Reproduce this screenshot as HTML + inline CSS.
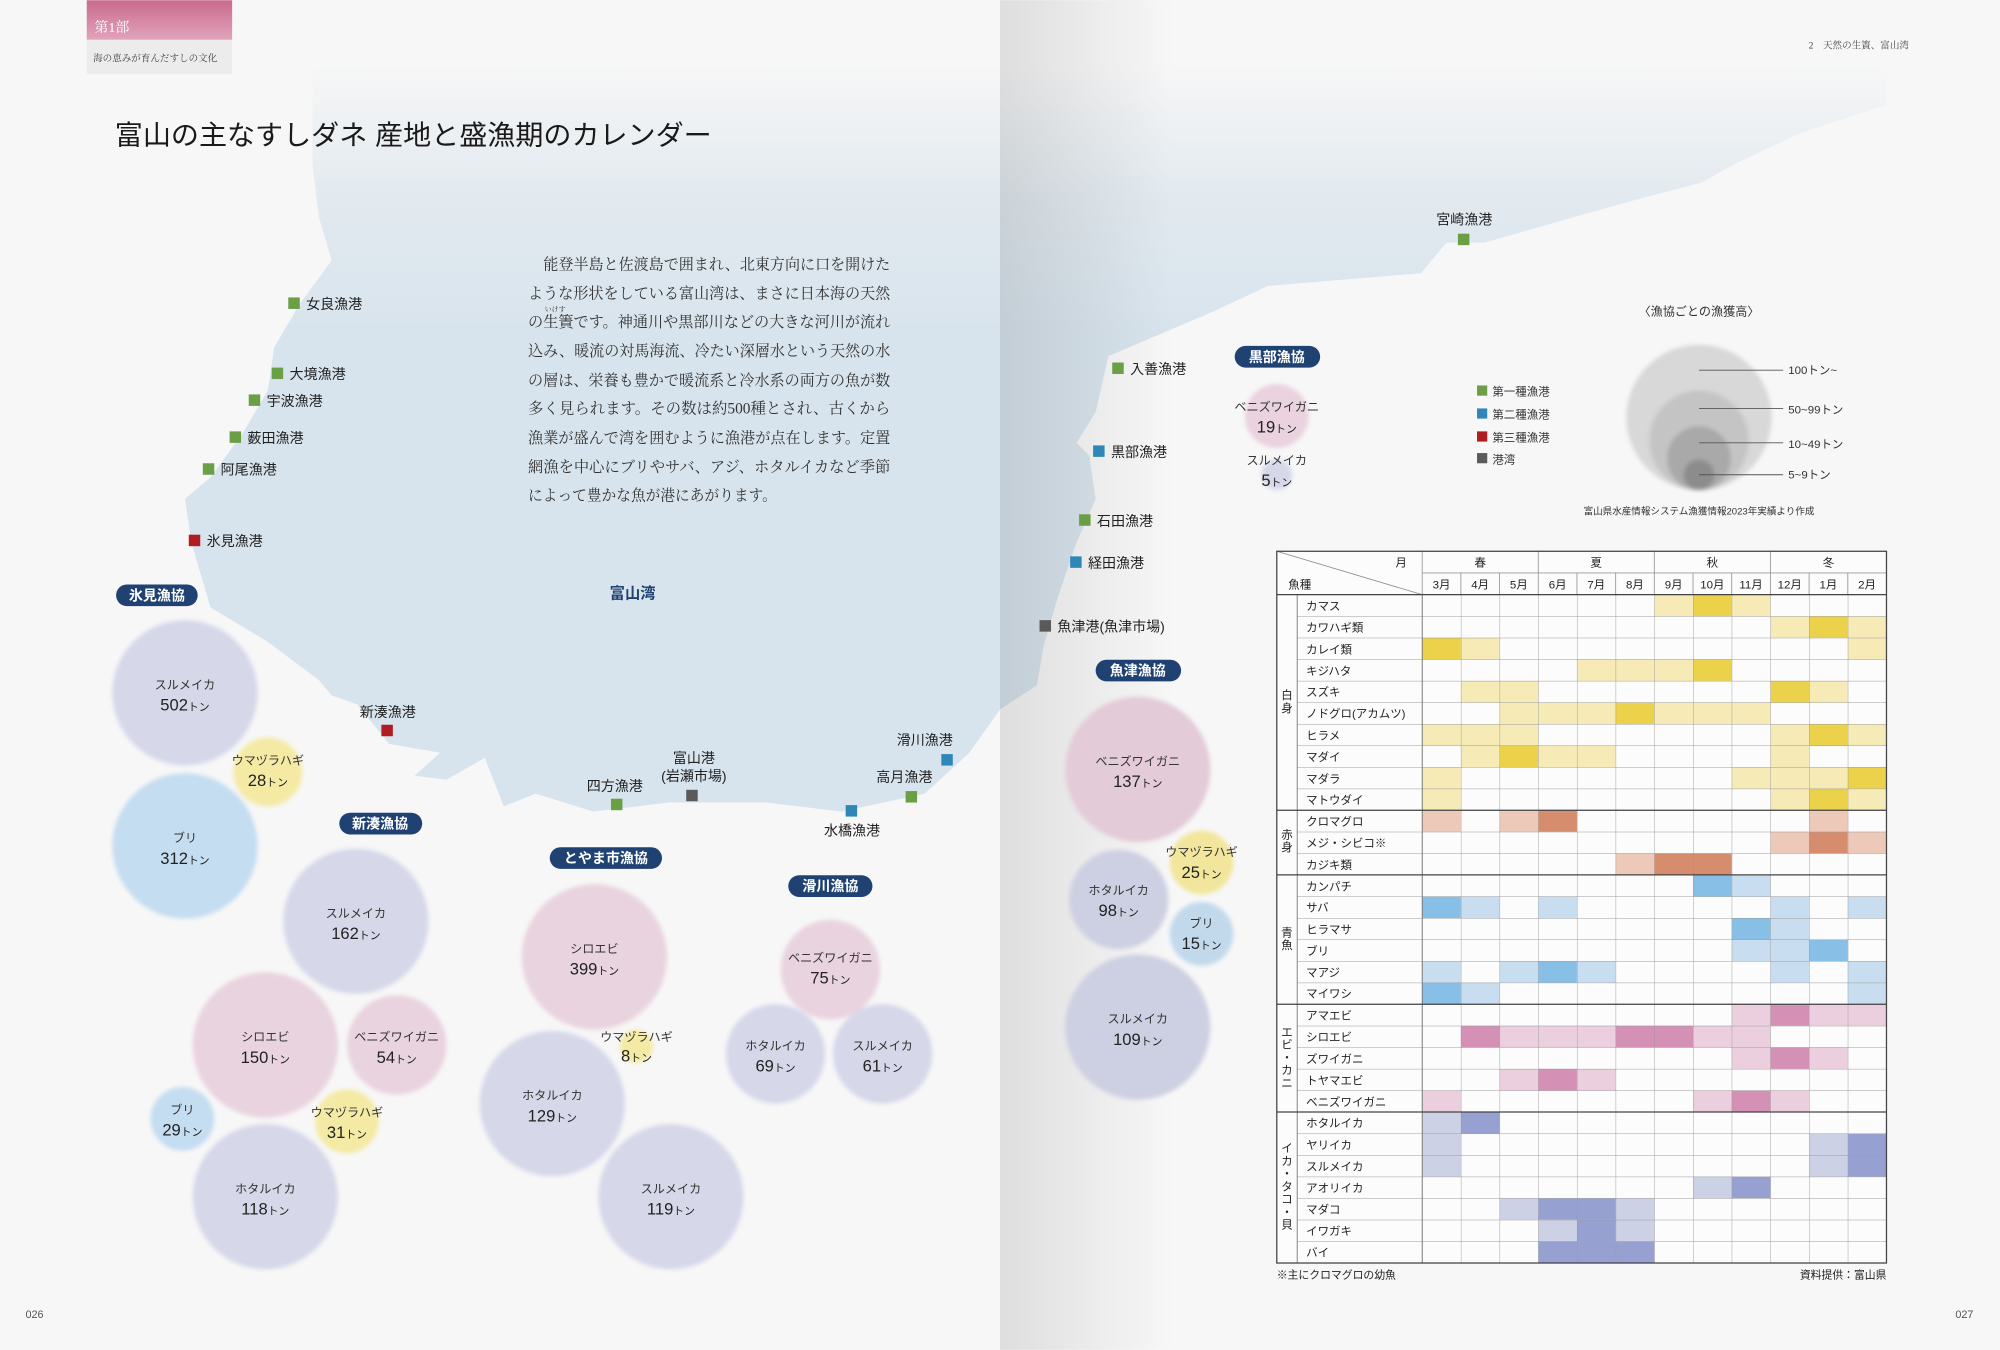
<!DOCTYPE html>
<html><head><meta charset="utf-8">
<style>
html,body{margin:0;padding:0;background:#f7f7f7;}
svg{display:block}
.s{font-family:"Liberation Sans","Noto Sans CJK JP",sans-serif;}
.sr{font-family:"Liberation Serif","Noto Serif CJK SC",serif;}
.y1{fill:#f6ebb6}.y2{fill:#ecd24a}
.r1{fill:#ecc9b8}.r2{fill:#d68d6d}
.b1{fill:#c8def0}.b2{fill:#88bfe6}
.p1{fill:#ebcfdf}.p2{fill:#d590b5}
.v1{fill:#cdd1e6}.v2{fill:#97a1d1}
.port{font-size:11px;fill:#222}
.pill{fill:#1f4273}
.pt{font-size:11px;fill:#fff;font-weight:bold}
.bn{font-size:9.5px;fill:#333}
.bv{font-size:13px;fill:#222}
.bu{font-size:8.5px}
.tl{font-size:9px;fill:#222}
</style></head>
<body>
<svg width="2000" height="1350" viewBox="0 0 1568 1058" xmlns="http://www.w3.org/2000/svg">
<defs>
<linearGradient id="sea" gradientUnits="userSpaceOnUse" x1="0" y1="50" x2="0" y2="260">
<stop offset="0" stop-color="#d9e4ec" stop-opacity="0"/>
<stop offset="0.5" stop-color="#d9e4ec" stop-opacity="0.7"/>
<stop offset="1" stop-color="#d8e4ed" stop-opacity="1"/>
</linearGradient>
<linearGradient id="gut" x1="784" y1="0" x2="920" y2="0" gradientUnits="userSpaceOnUse">
<stop offset="0" stop-color="#000" stop-opacity="0.1"/>
<stop offset="1" stop-color="#000" stop-opacity="0"/>
</linearGradient>
<linearGradient id="hdr" x1="0" y1="0" x2="0" y2="1">
<stop offset="0" stop-color="#c96a8c"/><stop offset="1" stop-color="#e1a3bb"/>
</linearGradient>
<filter id="bl" x="-20%" y="-20%" width="140%" height="140%"><feGaussianBlur stdDeviation="1.6"/></filter>
<pattern id="grid" patternUnits="userSpaceOnUse" x="1115" y="466" width="30.333" height="16.9">
<path d="M0 0V16.9M0 0H30.333" stroke="#9a9a9a" stroke-width="0.7" fill="none"/>
</pattern>
<pattern id="hgrid" patternUnits="userSpaceOnUse" x="1017" y="466" width="200" height="16.9">
<path d="M0 0H200" stroke="#9a9a9a" stroke-width="0.7" fill="none"/>
</pattern>
</defs>

<rect width="1568" height="1058" fill="#f7f7f7"/>

<!-- sea -->
<path fill="url(#sea)" d="M245 40 L245 129 L250 170 L260 204 L235 238 L215 272 L210 306 L190 340 L165 374 L145 391 L150 425 L165 476 L210 503 L250 533 L260 545 L280 552 L305 583 L345 590 L325 608 L350 611 L380 594 L395 632 L420 622 L465 636 L525 629 L600 629 L660 636 L725 622 L760 590 L784 556 L813 537 L818 507 L829 469 L844 425 L859 391 L854 357 L844 347 L859 323 L869 279 L909 262 L949 245 L994 224 L1114 214 L1134 190 L1164 190 L1234 170 L1284 156 L1334 143 L1359 129 L1409 105 L1479 82 L1479 40 Z"/>
<rect x="784" y="0" width="140" height="1058" fill="url(#gut)"/>

<!-- header -->
<rect x="68" y="0" width="114" height="31" fill="url(#hdr)"/>
<rect x="68" y="31" width="114" height="27" fill="#ececec"/>
<text x="74" y="25" class="sr" font-size="11" fill="#fff">第1部</text>
<text x="73" y="48" class="sr" font-size="7.5" fill="#444">海の恵みが育んだすしの文化</text>
<text x="1418" y="38" class="sr" font-size="7.5" fill="#444">2　天然の生簀、富山湾</text>
<text x="20" y="1033" class="s" font-size="8.5" fill="#555">026</text>
<text x="1533" y="1033" class="s" font-size="8.5" fill="#555">027</text>

<text x="90" y="113" class="s" font-size="21.5" fill="#1a1a1a" textLength="468" lengthAdjust="spacingAndGlyphs">富山の主なすしダネ 産地と盛漁期のカレンダー</text>

<!-- paragraph -->
<g class="sr" font-size="12" fill="#333">
<text x="426" y="211" textLength="272" lengthAdjust="spacingAndGlyphs">能登半島と佐渡島で囲まれ、北東方向に口を開けた</text>
<text x="414" y="234" textLength="284" lengthAdjust="spacingAndGlyphs">ような形状をしている富山湾は、まさに日本海の天然</text>
<text x="427" y="244" font-size="5.5">いけす</text>
<text x="414" y="256" textLength="284" lengthAdjust="spacingAndGlyphs">の生簀です。神通川や黒部川などの大きな河川が流れ</text>
<text x="414" y="279" textLength="284" lengthAdjust="spacingAndGlyphs">込み、暖流の対馬海流、冷たい深層水という天然の水</text>
<text x="414" y="302" textLength="284" lengthAdjust="spacingAndGlyphs">の層は、栄養も豊かで暖流系と冷水系の両方の魚が数</text>
<text x="414" y="324" textLength="284" lengthAdjust="spacingAndGlyphs">多く見られます。その数は約500種とされ、古くから</text>
<text x="414" y="347" textLength="284" lengthAdjust="spacingAndGlyphs">漁業が盛んで湾を囲むように漁港が点在します。定置</text>
<text x="414" y="370" textLength="284" lengthAdjust="spacingAndGlyphs">網漁を中心にブリやサバ、アジ、ホタルイカなど季節</text>
<text x="414" y="392" textLength="195" lengthAdjust="spacingAndGlyphs">によって豊かな魚が港にあがります。</text>
</g>
<text x="496" y="469" class="s" font-size="12" font-weight="bold" fill="#1f4273" text-anchor="middle">富山湾</text>

<!-- ports -->
<g class="s">
<rect x="226" y="233" width="9" height="9" fill="#6a9f45"/><text x="240" y="242" class="port">女良漁港</text>
<rect x="213" y="288" width="9" height="9" fill="#6a9f45"/><text x="227" y="297" class="port">大境漁港</text>
<rect x="195" y="309" width="9" height="9" fill="#6a9f45"/><text x="209" y="318" class="port">宇波漁港</text>
<rect x="180" y="338" width="9" height="9" fill="#6a9f45"/><text x="194" y="347" class="port">薮田漁港</text>
<rect x="159" y="363" width="9" height="9" fill="#6a9f45"/><text x="173" y="372" class="port">阿尾漁港</text>
<rect x="148" y="419" width="9" height="9" fill="#b01c22"/><text x="162" y="428" class="port">氷見漁港</text>
<text x="304" y="562" class="port" text-anchor="middle">新湊漁港</text><rect x="299" y="568" width="9" height="9" fill="#b01c22"/>
<text x="482" y="620" class="port" text-anchor="middle">四方漁港</text><rect x="479" y="626" width="9" height="9" fill="#6a9f45"/>
<text x="544" y="598" class="port" text-anchor="middle">富山港</text>
<text x="544" y="612" class="port" text-anchor="middle">(岩瀬市場)</text><rect x="538" y="619" width="9" height="9" fill="#5a5a5a"/>
<rect x="663" y="631" width="9" height="9" fill="#2f87b8"/><text x="668" y="655" class="port" text-anchor="middle">水橋漁港</text>
<text x="709" y="613" class="port" text-anchor="middle">高月漁港</text><rect x="710" y="620" width="9" height="9" fill="#6a9f45"/>
<text x="725" y="584" class="port" text-anchor="middle">滑川漁港</text><rect x="738" y="591" width="9" height="9" fill="#2f87b8"/>
<text x="1148" y="176" class="port" text-anchor="middle">宮崎漁港</text><rect x="1143" y="183" width="9" height="9" fill="#6a9f45"/>
<rect x="872" y="284" width="9" height="9" fill="#6a9f45"/><text x="886" y="293" class="port">入善漁港</text>
<rect x="857" y="349" width="9" height="9" fill="#2f87b8"/><text x="871" y="358" class="port">黒部漁港</text>
<rect x="846" y="403" width="9" height="9" fill="#6a9f45"/><text x="860" y="412" class="port">石田漁港</text>
<rect x="839" y="436" width="9" height="9" fill="#2f87b8"/><text x="853" y="445" class="port">経田漁港</text>
<rect x="815" y="486" width="9" height="9" fill="#5a5a5a"/><text x="829" y="495" class="port">魚津港(魚津市場)</text>
</g>

<!-- bubbles -->
<g filter="url(#bl)">
<circle cx="145" cy="543" r="57" fill="#d6d8ea"/>
<circle cx="210" cy="605" r="27" fill="#f4eaa4"/>
<circle cx="145" cy="663" r="57" fill="#c4ddf1"/>
<circle cx="279" cy="722" r="57" fill="#d6d8ea"/>
<circle cx="208" cy="819" r="57" fill="#e9d3df"/>
<circle cx="311" cy="819" r="39" fill="#e9d3df"/>
<circle cx="143" cy="877" r="25" fill="#c4ddf1"/>
<circle cx="272" cy="879" r="25" fill="#f4eaa4"/>
<circle cx="208" cy="938" r="57" fill="#d6d8ea"/>
<circle cx="466" cy="750" r="57" fill="#e9d3df"/>
<circle cx="433" cy="865" r="57" fill="#d6d8ea"/>
<circle cx="499" cy="820" r="13" fill="#f4eaa4"/>
<circle cx="526" cy="938" r="57" fill="#d6d8ea"/>
<circle cx="651" cy="760" r="39" fill="#e9d3df"/>
<circle cx="608" cy="826" r="39" fill="#d6d8ea"/>
<circle cx="692" cy="826" r="39" fill="#d6d8ea"/>
<circle cx="1001" cy="326" r="25" fill="#ead2df"/>
<circle cx="1001" cy="372" r="12" fill="#d6d8ea"/>
<circle cx="892" cy="603" r="57" fill="#e3cbd8"/>
<circle cx="877" cy="705" r="39" fill="#cdd0e2"/>
<circle cx="942" cy="676" r="25" fill="#f2e69c"/>
<circle cx="942" cy="732" r="25" fill="#c2d9ec"/>
<circle cx="892" cy="805" r="57" fill="#cdd0e2"/>
</g>

<!-- pills -->
<g class="s">
<rect x="91" y="458" width="64" height="17" rx="8.5" class="pill"/><text x="123" y="470.5" class="pt" text-anchor="middle">氷見漁協</text>
<rect x="266" y="637" width="65" height="17" rx="8.5" class="pill"/><text x="298" y="649.5" class="pt" text-anchor="middle">新湊漁協</text>
<rect x="431" y="664" width="88" height="17" rx="8.5" class="pill"/><text x="475" y="676.5" class="pt" text-anchor="middle">とやま市漁協</text>
<rect x="618" y="686" width="66" height="17" rx="8.5" class="pill"/><text x="651" y="698.5" class="pt" text-anchor="middle">滑川漁協</text>
<rect x="968" y="271" width="67" height="17" rx="8.5" class="pill"/><text x="1001" y="283.5" class="pt" text-anchor="middle">黒部漁協</text>
<rect x="859" y="517" width="67" height="17" rx="8.5" class="pill"/><text x="892" y="529.5" class="pt" text-anchor="middle">魚津漁協</text>
</g>

<!-- bubble labels -->
<g class="s" text-anchor="middle">
<text x="145" y="540" class="bn">スルメイカ</text><text x="145" y="557" class="bv">502<tspan class="bu">トン</tspan></text>
<text x="210" y="599" class="bn">ウマヅラハギ</text><text x="210" y="616" class="bv">28<tspan class="bu">トン</tspan></text>
<text x="145" y="660" class="bn">ブリ</text><text x="145" y="677" class="bv">312<tspan class="bu">トン</tspan></text>
<text x="279" y="719" class="bn">スルメイカ</text><text x="279" y="736" class="bv">162<tspan class="bu">トン</tspan></text>
<text x="208" y="816" class="bn">シロエビ</text><text x="208" y="833" class="bv">150<tspan class="bu">トン</tspan></text>
<text x="311" y="816" class="bn">ベニズワイガニ</text><text x="311" y="833" class="bv">54<tspan class="bu">トン</tspan></text>
<text x="143" y="873" class="bn">ブリ</text><text x="143" y="890" class="bv">29<tspan class="bu">トン</tspan></text>
<text x="272" y="875" class="bn">ウマヅラハギ</text><text x="272" y="892" class="bv">31<tspan class="bu">トン</tspan></text>
<text x="208" y="935" class="bn">ホタルイカ</text><text x="208" y="952" class="bv">118<tspan class="bu">トン</tspan></text>
<text x="466" y="747" class="bn">シロエビ</text><text x="466" y="764" class="bv">399<tspan class="bu">トン</tspan></text>
<text x="499" y="816" class="bn">ウマヅラハギ</text><text x="499" y="832" class="bv">8<tspan class="bu">トン</tspan></text>
<text x="433" y="862" class="bn">ホタルイカ</text><text x="433" y="879" class="bv">129<tspan class="bu">トン</tspan></text>
<text x="526" y="935" class="bn">スルメイカ</text><text x="526" y="952" class="bv">119<tspan class="bu">トン</tspan></text>
<text x="651" y="754" class="bn">ベニズワイガニ</text><text x="651" y="771" class="bv">75<tspan class="bu">トン</tspan></text>
<text x="608" y="823" class="bn">ホタルイカ</text><text x="608" y="840" class="bv">69<tspan class="bu">トン</tspan></text>
<text x="692" y="823" class="bn">スルメイカ</text><text x="692" y="840" class="bv">61<tspan class="bu">トン</tspan></text>
<text x="1001" y="322" class="bn">ベニズワイガニ</text><text x="1001" y="339" class="bv">19<tspan class="bu">トン</tspan></text>
<text x="1001" y="364" class="bn">スルメイカ</text><text x="1001" y="381" class="bv">5<tspan class="bu">トン</tspan></text>
<text x="892" y="600" class="bn">ベニズワイガニ</text><text x="892" y="617" class="bv">137<tspan class="bu">トン</tspan></text>
<text x="877" y="701" class="bn">ホタルイカ</text><text x="877" y="718" class="bv">98<tspan class="bu">トン</tspan></text>
<text x="942" y="671" class="bn">ウマヅラハギ</text><text x="942" y="688" class="bv">25<tspan class="bu">トン</tspan></text>
<text x="942" y="727" class="bn">ブリ</text><text x="942" y="744" class="bv">15<tspan class="bu">トン</tspan></text>
<text x="892" y="802" class="bn">スルメイカ</text><text x="892" y="819" class="bv">109<tspan class="bu">トン</tspan></text>
</g>

<!-- legend -->
<g class="s" font-size="9" fill="#333">
<rect x="1158" y="302" width="8" height="8" fill="#6a9f45"/><text x="1170" y="310">第一種漁港</text>
<rect x="1158" y="320" width="8" height="8" fill="#2f87b8"/><text x="1170" y="328">第二種漁港</text>
<rect x="1158" y="338" width="8" height="8" fill="#b01c22"/><text x="1170" y="346">第三種漁港</text>
<rect x="1158" y="355" width="8" height="8" fill="#5a5a5a"/><text x="1170" y="363">港湾</text>
<text x="1332" y="247" text-anchor="middle" font-size="9.5">〈漁協ごとの漁獲高〉</text>
<g filter="url(#bl)">
<circle cx="1332" cy="327" r="57" fill="#d8d8d8"/>
<circle cx="1332" cy="345" r="39" fill="#c4c4c4"/>
<circle cx="1332" cy="359" r="25" fill="#a9a9a9"/>
<circle cx="1332" cy="372" r="12" fill="#8c8c8c"/>
</g>
<path d="M1332 290H1398M1332 320H1398M1332 347H1398M1332 372H1398" stroke="#555" stroke-width="0.7"/>
<text x="1402" y="293">100トン~</text>
<text x="1402" y="324">50~99トン</text>
<text x="1402" y="351">10~49トン</text>
<text x="1402" y="375">5~9トン</text>
<text x="1332" y="403" text-anchor="middle" font-size="7.5">富山県水産情報システム漁獲情報2023年実績より作成</text>
</g>

<!-- table -->
<rect x="1001" y="432" width="478" height="558" fill="#fcfcfc"/>
<g transform="translate(1115,466) scale(30.333,16.9)">
<rect x="6" y="0" width="1" height="1" class="y1"/><rect x="7" y="0" width="1" height="1" class="y2"/><rect x="8" y="0" width="1" height="1" class="y1"/>
<rect x="9" y="1" width="1" height="1" class="y1"/><rect x="10" y="1" width="1" height="1" class="y2"/><rect x="11" y="1" width="1" height="1" class="y1"/>
<rect x="0" y="2" width="1" height="1" class="y2"/><rect x="1" y="2" width="1" height="1" class="y1"/><rect x="11" y="2" width="1" height="1" class="y1"/>
<rect x="4" y="3" width="3" height="1" class="y1"/><rect x="7" y="3" width="1" height="1" class="y2"/>
<rect x="1" y="4" width="2" height="1" class="y1"/><rect x="9" y="4" width="1" height="1" class="y2"/><rect x="10" y="4" width="1" height="1" class="y1"/>
<rect x="2" y="5" width="3" height="1" class="y1"/><rect x="5" y="5" width="1" height="1" class="y2"/><rect x="6" y="5" width="3" height="1" class="y1"/>
<rect x="0" y="6" width="3" height="1" class="y1"/><rect x="9" y="6" width="1" height="1" class="y1"/><rect x="10" y="6" width="1" height="1" class="y2"/><rect x="11" y="6" width="1" height="1" class="y1"/>
<rect x="1" y="7" width="1" height="1" class="y1"/><rect x="2" y="7" width="1" height="1" class="y2"/><rect x="3" y="7" width="2" height="1" class="y1"/><rect x="9" y="7" width="1" height="1" class="y1"/>
<rect x="0" y="8" width="1" height="1" class="y1"/><rect x="8" y="8" width="3" height="1" class="y1"/><rect x="11" y="8" width="1" height="1" class="y2"/>
<rect x="0" y="9" width="1" height="1" class="y1"/><rect x="9" y="9" width="1" height="1" class="y1"/><rect x="10" y="9" width="1" height="1" class="y2"/><rect x="11" y="9" width="1" height="1" class="y1"/>
<rect x="0" y="10" width="1" height="1" class="r1"/><rect x="2" y="10" width="1" height="1" class="r1"/><rect x="3" y="10" width="1" height="1" class="r2"/><rect x="10" y="10" width="1" height="1" class="r1"/>
<rect x="9" y="11" width="1" height="1" class="r1"/><rect x="10" y="11" width="1" height="1" class="r2"/><rect x="11" y="11" width="1" height="1" class="r1"/>
<rect x="5" y="12" width="1" height="1" class="r1"/><rect x="6" y="12" width="2" height="1" class="r2"/>
<rect x="7" y="13" width="1" height="1" class="b2"/><rect x="8" y="13" width="1" height="1" class="b1"/>
<rect x="0" y="14" width="1" height="1" class="b2"/><rect x="1" y="14" width="1" height="1" class="b1"/><rect x="3" y="14" width="1" height="1" class="b1"/><rect x="9" y="14" width="1" height="1" class="b1"/><rect x="11" y="14" width="1" height="1" class="b1"/>
<rect x="8" y="15" width="1" height="1" class="b2"/><rect x="9" y="15" width="1" height="1" class="b1"/>
<rect x="8" y="16" width="2" height="1" class="b1"/><rect x="10" y="16" width="1" height="1" class="b2"/>
<rect x="0" y="17" width="1" height="1" class="b1"/><rect x="2" y="17" width="1" height="1" class="b1"/><rect x="3" y="17" width="1" height="1" class="b2"/><rect x="4" y="17" width="1" height="1" class="b1"/><rect x="9" y="17" width="1" height="1" class="b1"/><rect x="11" y="17" width="1" height="1" class="b1"/>
<rect x="0" y="18" width="1" height="1" class="b2"/><rect x="1" y="18" width="1" height="1" class="b1"/><rect x="11" y="18" width="1" height="1" class="b1"/>
<rect x="8" y="19" width="1" height="1" class="p1"/><rect x="9" y="19" width="1" height="1" class="p2"/><rect x="10" y="19" width="2" height="1" class="p1"/>
<rect x="1" y="20" width="1" height="1" class="p2"/><rect x="2" y="20" width="3" height="1" class="p1"/><rect x="5" y="20" width="2" height="1" class="p2"/><rect x="7" y="20" width="2" height="1" class="p1"/>
<rect x="8" y="21" width="1" height="1" class="p1"/><rect x="9" y="21" width="1" height="1" class="p2"/><rect x="10" y="21" width="1" height="1" class="p1"/>
<rect x="2" y="22" width="1" height="1" class="p1"/><rect x="3" y="22" width="1" height="1" class="p2"/><rect x="4" y="22" width="1" height="1" class="p1"/>
<rect x="0" y="23" width="1" height="1" class="p1"/><rect x="7" y="23" width="1" height="1" class="p1"/><rect x="8" y="23" width="1" height="1" class="p2"/><rect x="9" y="23" width="1" height="1" class="p1"/>
<rect x="0" y="24" width="1" height="1" class="v1"/><rect x="1" y="24" width="1" height="1" class="v2"/>
<rect x="0" y="25" width="1" height="1" class="v1"/><rect x="10" y="25" width="1" height="1" class="v1"/><rect x="11" y="25" width="1" height="1" class="v2"/>
<rect x="0" y="26" width="1" height="1" class="v1"/><rect x="10" y="26" width="1" height="1" class="v1"/><rect x="11" y="26" width="1" height="1" class="v2"/>
<rect x="7" y="27" width="1" height="1" class="v1"/><rect x="8" y="27" width="1" height="1" class="v2"/>
<rect x="2" y="28" width="1" height="1" class="v1"/><rect x="3" y="28" width="2" height="1" class="v2"/><rect x="5" y="28" width="1" height="1" class="v1"/>
<rect x="3" y="29" width="1" height="1" class="v1"/><rect x="4" y="29" width="1" height="1" class="v2"/><rect x="5" y="29" width="1" height="1" class="v1"/>
<rect x="3" y="30" width="3" height="1" class="v2"/>
</g>
<rect x="1115" y="466" width="364" height="524" fill="url(#grid)"/>
<rect x="1017" y="466" width="98" height="524" fill="url(#hgrid)"/>
<path d="M1115 432V466M1115 449H1479M1206 432V466M1297 432V466M1388 432V466M1145.33 449V466M1175.67 449V466M1236.33 449V466M1266.67 449V466M1327.33 449V466M1357.67 449V466M1418.33 449V466M1448.67 449V466" stroke="#9a9a9a" stroke-width="0.7" fill="none"/>
<path d="M1001 432L1115 466" stroke="#888" stroke-width="0.6"/>
<path d="M1017 466V990M1115 466V990" stroke="#777" stroke-width="0.7"/>
<path d="M1001 466H1479M1001 635H1479M1001 685.7H1479M1001 787.1H1479M1001 871.6H1479" stroke="#444" stroke-width="1"/>
<rect x="1001" y="432" width="478" height="558" fill="none" stroke="#444" stroke-width="1"/>
<g class="s" font-size="9" fill="#222">
<text x="1103" y="444" text-anchor="end">月</text>
<text x="1010" y="461">魚種</text>
<text x="1160.5" y="444" text-anchor="middle">春</text>
<text x="1251.5" y="444" text-anchor="middle">夏</text>
<text x="1342.5" y="444" text-anchor="middle">秋</text>
<text x="1433.5" y="444" text-anchor="middle">冬</text>
<g text-anchor="middle">
<text x="1130.2" y="461">3月</text><text x="1160.5" y="461">4月</text><text x="1190.8" y="461">5月</text><text x="1221.2" y="461">6月</text><text x="1251.5" y="461">7月</text><text x="1281.8" y="461">8月</text><text x="1312.2" y="461">9月</text><text x="1342.5" y="461">10月</text><text x="1372.8" y="461">11月</text><text x="1403.2" y="461">12月</text><text x="1433.5" y="461">1月</text><text x="1463.8" y="461">2月</text>
</g>
<g class="tl">
<text x="1024" y="478">カマス</text>
<text x="1024" y="495">カワハギ類</text>
<text x="1024" y="512">カレイ類</text>
<text x="1024" y="529">キジハタ</text>
<text x="1024" y="545.5">スズキ</text>
<text x="1024" y="562.5">ノドグロ(アカムツ)</text>
<text x="1024" y="579.5">ヒラメ</text>
<text x="1024" y="596.5">マダイ</text>
<text x="1024" y="613.5">マダラ</text>
<text x="1024" y="630">マトウダイ</text>
<text x="1024" y="647">クロマグロ</text>
<text x="1024" y="664">メジ・シビコ※</text>
<text x="1024" y="681">カジキ類</text>
<text x="1024" y="698">カンパチ</text>
<text x="1024" y="714.5">サバ</text>
<text x="1024" y="731.5">ヒラマサ</text>
<text x="1024" y="748.5">ブリ</text>
<text x="1024" y="765.5">マアジ</text>
<text x="1024" y="782">マイワシ</text>
<text x="1024" y="799">アマエビ</text>
<text x="1024" y="816">シロエビ</text>
<text x="1024" y="833">ズワイガニ</text>
<text x="1024" y="850">トヤマエビ</text>
<text x="1024" y="867">ベニズワイガニ</text>
<text x="1024" y="883.5">ホタルイカ</text>
<text x="1024" y="900.5">ヤリイカ</text>
<text x="1024" y="917.5">スルメイカ</text>
<text x="1024" y="934.5">アオリイカ</text>
<text x="1024" y="951">マダコ</text>
<text x="1024" y="968">イワガキ</text>
<text x="1024" y="985">バイ</text>
</g>
<g text-anchor="middle" font-size="9">
<text x="1009" y="548">白</text><text x="1009" y="558">身</text>
<text x="1009" y="657">赤</text><text x="1009" y="667">身</text>
<text x="1009" y="734">青</text><text x="1009" y="744">魚</text>
<text x="1009" y="812">エ</text><text x="1009" y="822">ビ</text><text x="1009" y="832">・</text><text x="1009" y="842">カ</text><text x="1009" y="852">ニ</text>
<text x="1009" y="903">イ</text><text x="1009" y="913">カ</text><text x="1009" y="923">・</text><text x="1009" y="933">タ</text><text x="1009" y="943">コ</text><text x="1009" y="953">・</text><text x="1009" y="963">貝</text>
</g>
<text x="1001" y="1002" font-size="8.5">※主にクロマグロの幼魚</text>
<text x="1479" y="1002" font-size="8.5" text-anchor="end">資料提供：富山県</text>
</g>
</svg>
</body></html>
